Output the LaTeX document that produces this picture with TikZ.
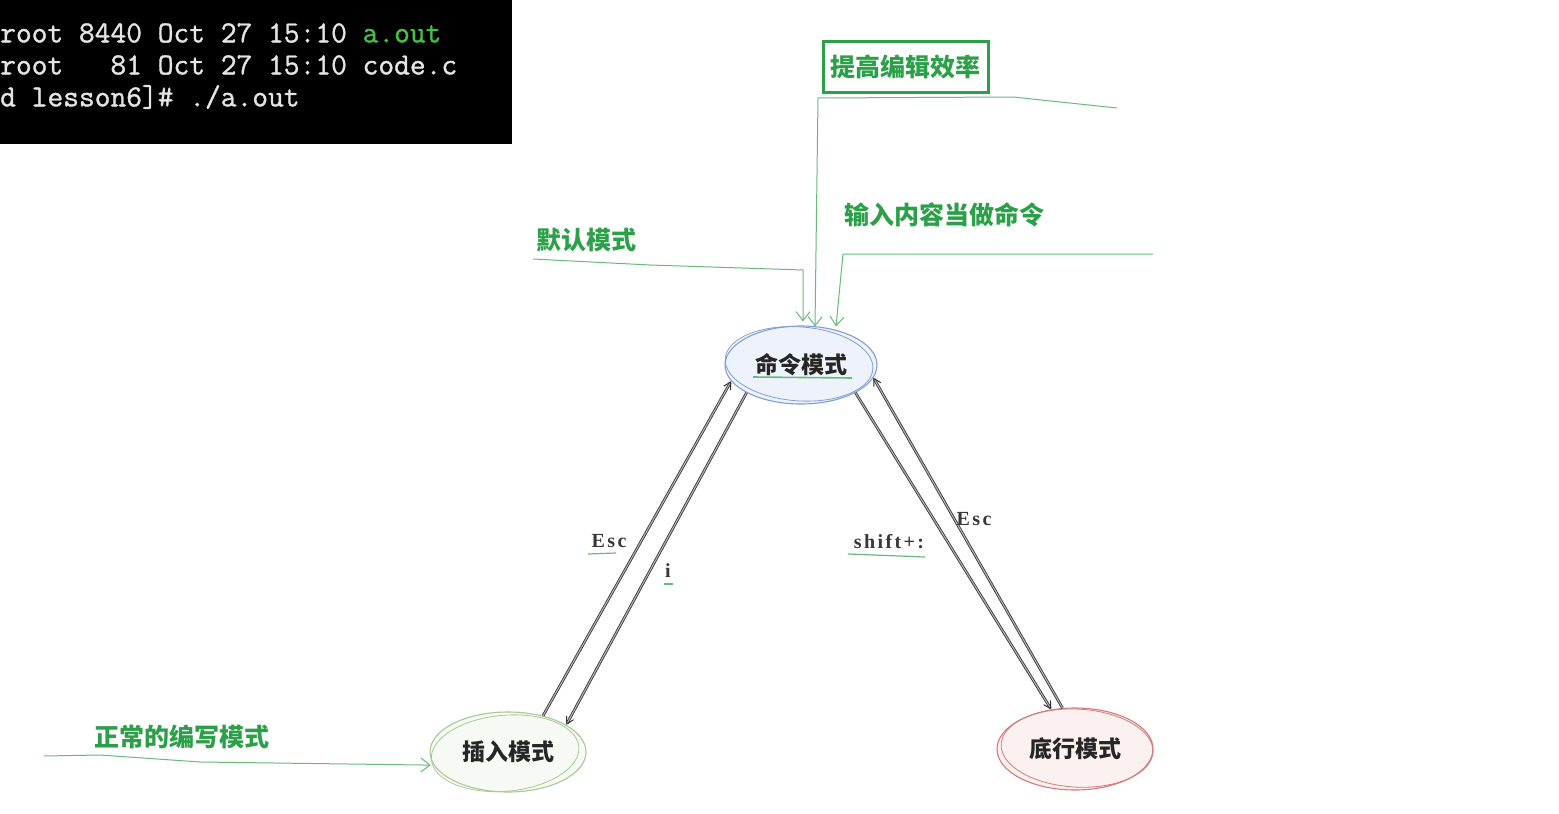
\documentclass[tikz,border=0pt]{standalone}
\usepackage{fontspec}
\setmainfont{Liberation Serif}
\newfontfamily\cjk{Noto Sans CJK SC}
\newfontfamily\termfont{Latin Modern Mono}[FakeBold=1.2]
\usetikzlibrary{arrows.meta,shapes.geometric}
\definecolor{gtext}{RGB}{44,160,72}
\definecolor{gline}{RGB}{105,185,125}
\definecolor{cmdc}{RGB}{128,158,212}
\definecolor{cmdf}{RGB}{238,243,251}
\definecolor{insc}{RGB}{168,200,148}
\definecolor{insf}{RGB}{247,250,244}
\definecolor{botc}{RGB}{212,122,122}
\definecolor{botf}{RGB}{252,241,241}
\definecolor{termtxt}{RGB}{228,228,228}
\definecolor{termgreen}{RGB}{70,190,70}
\tikzset{
  termline/.style={anchor=west,inner sep=0pt,text=termtxt,font=\termfont\fontsize{30.6}{34}\selectfont},
  anno/.style={inner sep=0pt,text=gtext,font=\cjk\bfseries\fontsize{25}{28}\selectfont},
  state/.style={ellipse,inner sep=0pt,line width=1.1pt,font=\cjk\bfseries\fontsize{23}{26}\selectfont,text=black!85},
  annoarrow/.style={draw=gline,line width=1pt,-{Straight Barb[length=9pt,width=14pt]}},
  trans/.style={draw=black!80,line width=0.8pt,double=black!30,double distance=1.1pt,-{Straight Barb[length=7pt,width=8pt,line width=1pt]}},
  key/.style={inner sep=0pt,text=black!78,font=\bfseries\fontsize{20}{22}\selectfont\addfontfeatures{LetterSpace=12}},
  keyul/.style={draw=gline,line width=1.2pt}
}
\begin{document}
\begin{tikzpicture}[x=1pt,y=-1pt]
\useasboundingbox (0,0) rectangle (1559,814);
\fill[white] (0,0) rectangle (1559,814);

% terminal screenshot
\node[fill=black,anchor=north west,minimum width=512pt,minimum height=144pt,inner sep=0pt] (term) at (0,0) {};
\node[termline] (t1) at (0,33) {root 8440 Oct 27 15:10 \textcolor{termgreen}{a.out}};
\node[termline] (t2) at (0,65) {root\ \ \ 81 Oct 27 15:10 code.c};
\node[termline] (t3) at (0,97) {d lesson6]\# ./a.out};

% states
\node[state,draw=cmdc,fill=cmdf,minimum width=152pt,minimum height=78pt] (cmd) at (801,365) {命令模式};
\draw[cmdc,line width=0.8pt,rotate around={-4:(cmd.center)}] ([xshift=-2pt,yshift=1pt]cmd.center) ellipse [x radius=74,y radius=37];
\draw[gline,line width=1.6pt] (753,377) -- (852,378);

\node[state,draw=insc,fill=insf,minimum width=156pt,minimum height=80pt] (ins) at (508,752) {插入模式};
\draw[insc,line width=0.8pt,rotate around={5:(ins.center)}] ([xshift=-3pt,yshift=-1pt]ins.center) ellipse [x radius=74,y radius=38];

\node[state,draw=botc,fill=botf,minimum width=156pt,minimum height=82pt] (bot) at (1075,749) {底行模式};
\draw[botc,line width=0.8pt,rotate around={-3:(bot.center)}] ([xshift=2pt,yshift=1pt]bot.center) ellipse [x radius=76,y radius=39];

% transitions
\draw[trans] (ins.46) -- (cmd.193);
\draw[trans] (cmd.207) -- (ins.25);
\draw[trans] (cmd.333) -- (bot.121);
\draw[trans] (bot.107) -- (cmd.350);

% key labels
\node[key] (kesc1) at (609,541) {Esc};
\draw[keyul] (588,554) -- (616,553);
\node[key] (ki) at (668,571) {i};
\draw[keyul] (664,584) -- (673,584);
\node[key] (kshift) at (889,542) {shift+:};
\draw[keyul] (848,554) -- (925,557);
\node[key] (kesc2) at (974,519) {Esc};

% annotations
\node[anno,draw=gtext,line width=3pt,minimum width=165pt,minimum height=51pt,inner xsep=4pt] (eff) at (905.5,66.5) {提高编辑效率};
\coordinate (e1) at (1117,108);
\coordinate (e2) at (1013,97);
\coordinate (e3) at (818,98);
\draw[annoarrow] (e1) -- (e2) -- (e3) -- ([xshift=14pt,yshift=-1pt]cmd.north);

\node[anno] (inp) at (944,215) {输入内容当做命令};
\coordinate (p1) at (1153,254);
\coordinate (p2) at (843,254);
\draw[annoarrow] (p1) -- (p2) -- ([xshift=35pt,yshift=-1pt]cmd.north);

\node[anno] (def) at (586,240) {默认模式};
\coordinate (d1) at (533,259);
\coordinate (d2) at (650,265);
\coordinate (d3) at (803,270);
\draw[annoarrow] (d1) -- (d2) -- (d3) -- ([xshift=2pt,yshift=4pt]cmd.north);

\node[anno] (nor) at (182,737) {正常的编写模式};
\coordinate (n1) at (44,756);
\coordinate (n2) at (100,755);
\coordinate (n3) at (200,762);
\draw[annoarrow] (n1) -- (n2) -- (n3) -- ([xshift=-3pt]ins.190);
\end{tikzpicture}
\end{document}
